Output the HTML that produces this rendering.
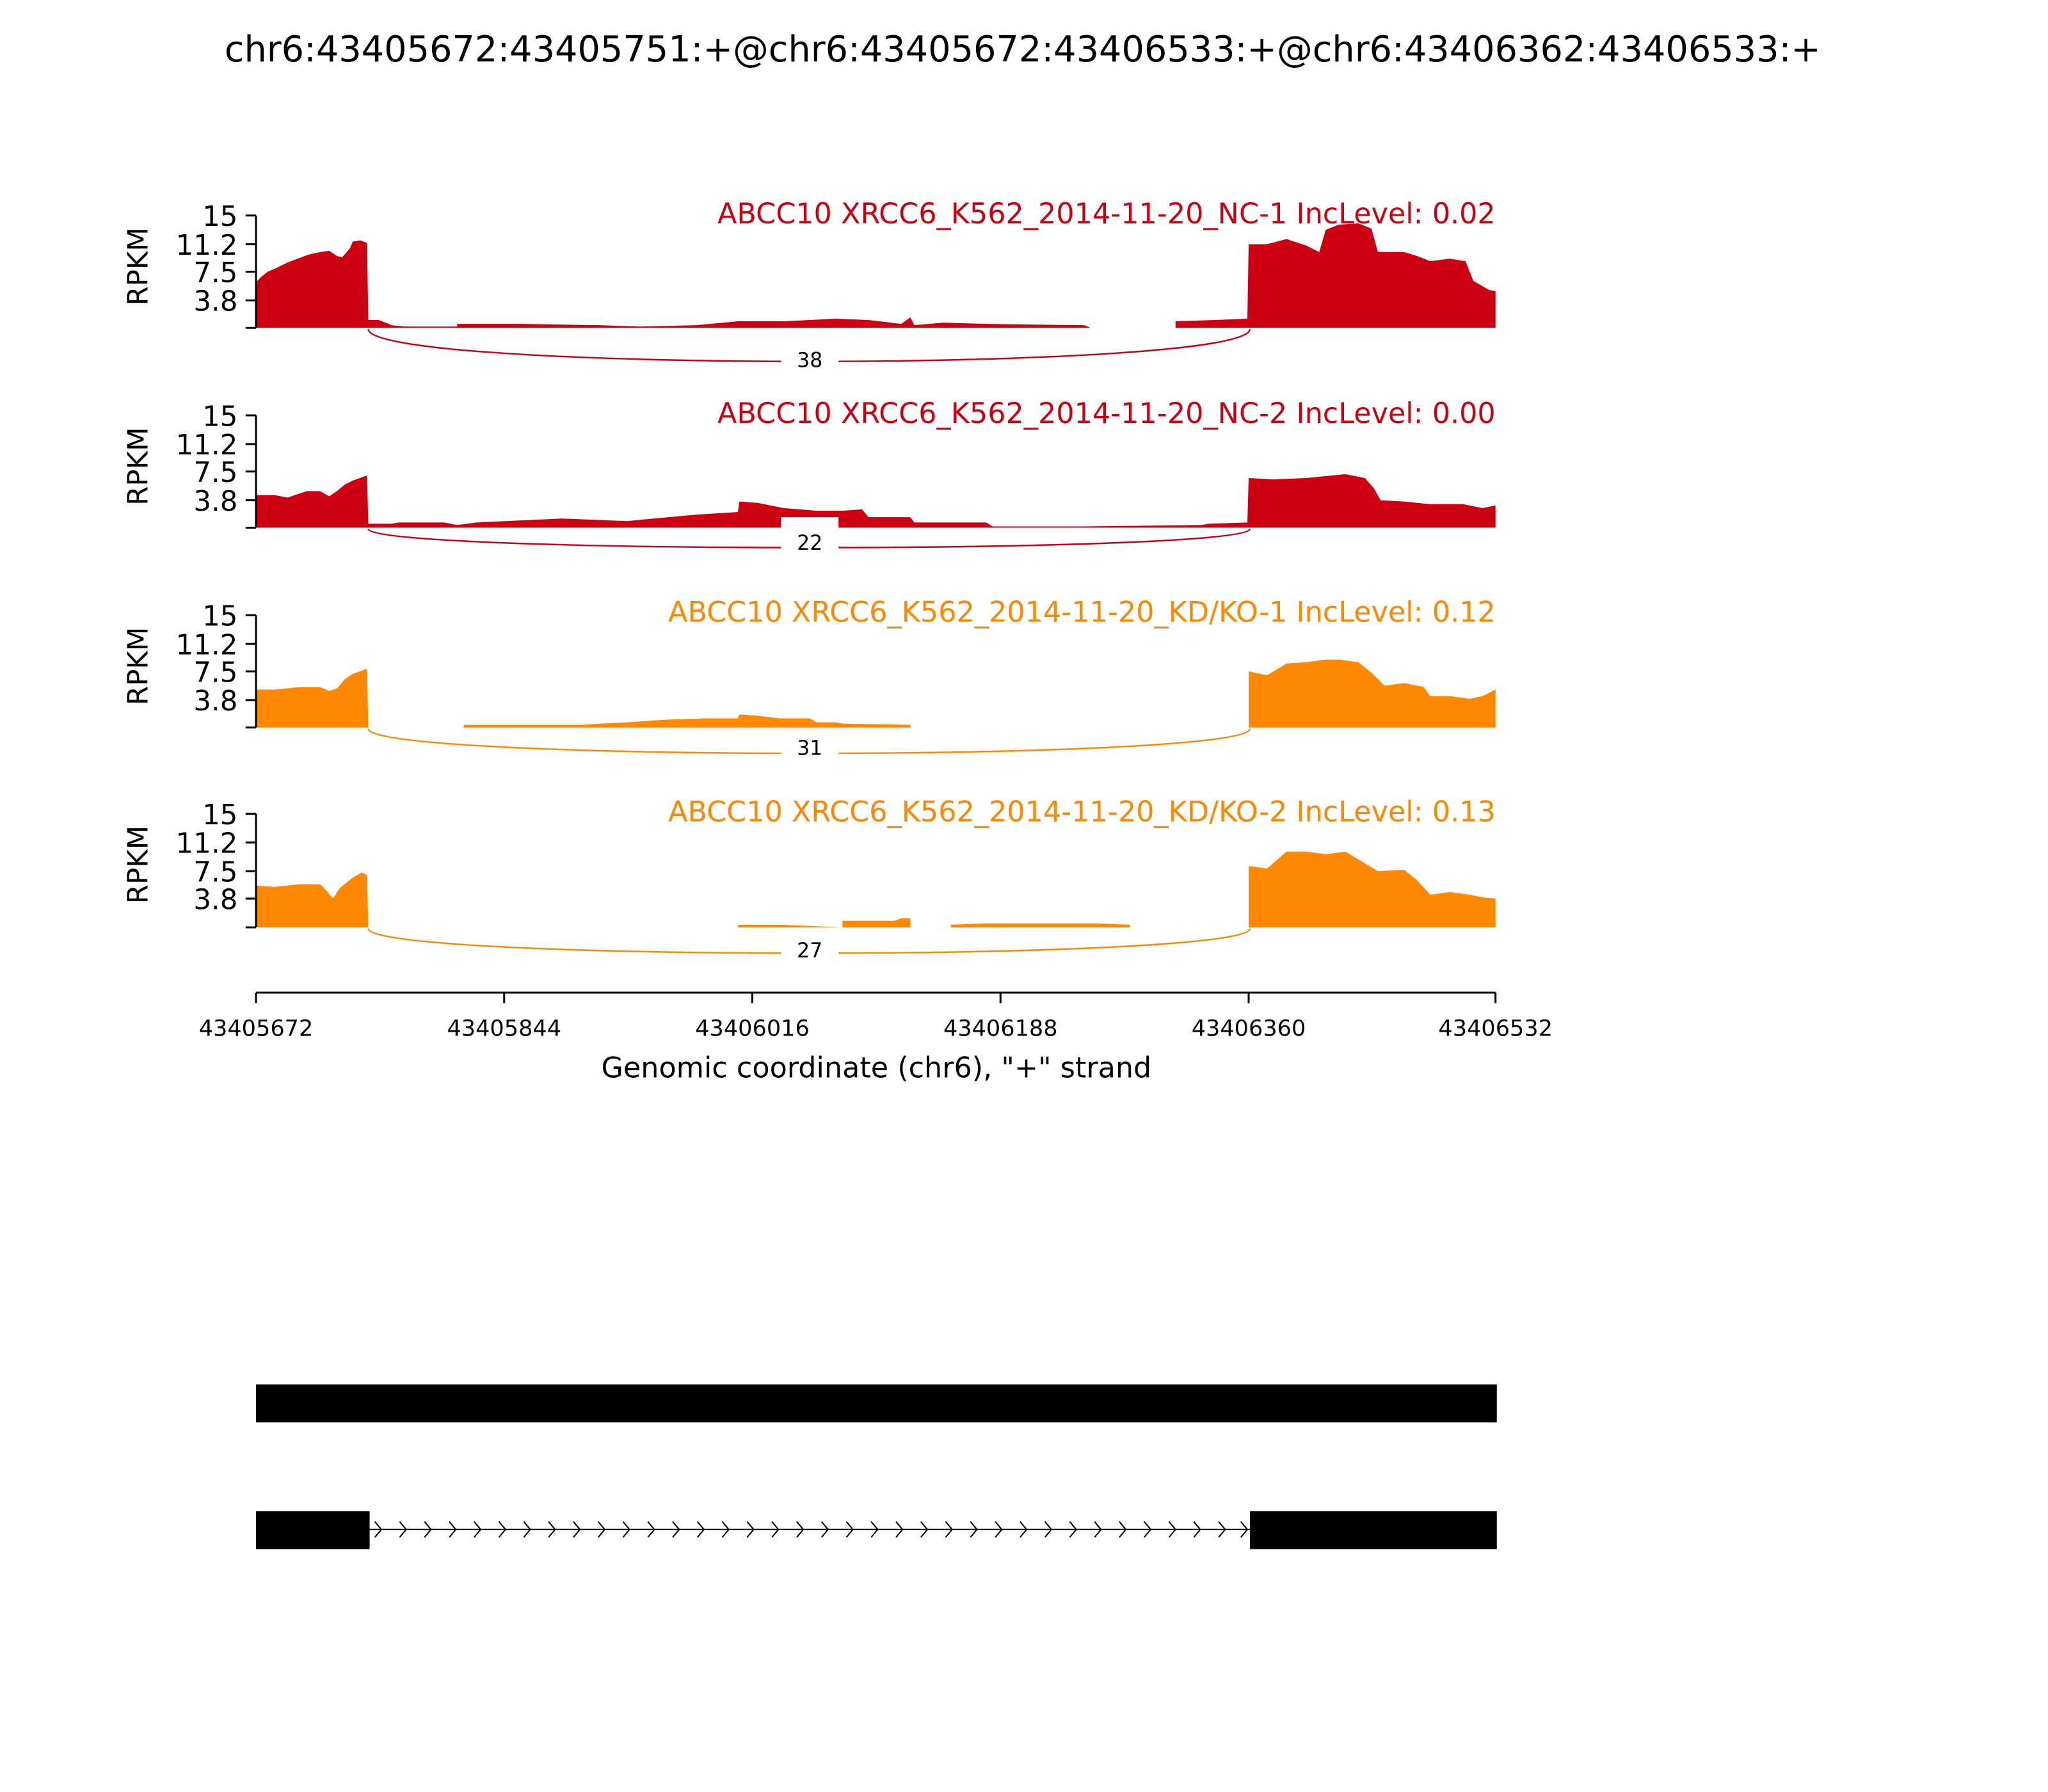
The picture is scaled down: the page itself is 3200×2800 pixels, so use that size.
<!DOCTYPE html>
<html><head><meta charset="utf-8"><style>html,body{margin:0;padding:0;background:#fff}svg{display:block}</style></head><body>
<svg width="3200" height="2800" viewBox="0 0 1568 1372" xmlns="http://www.w3.org/2000/svg" font-family="'DejaVu Sans','Liberation Sans',sans-serif">
<rect width="1568" height="1372" fill="#fff"/>
<text x="783" y="47" font-size="27.3" text-anchor="middle">chr6:43405672:43405751:+@chr6:43405672:43406533:+@chr6:43406362:43406533:+</text>

<!-- Track 1 -->
<g>
<polygon fill="#cc0011" points="196,251 196,216 200,212 205,208 212,205 220,201 228,198 236,195 245,193 252,192 258,196 262,197 268,190 270,185 276,184 281,186 282,245 290,245 300,249 310,250 350,250 350,248 400,248 460,249 490,250 533,249 565,246 600,246 620,245 640,244 665,245 690,248 697,243 700,249 722,247 755,248 830,249 835,251 900,251 900,246 930,245 955,244 956,187 970,187 985,183 1000,188 1010,193 1015,176 1025,172 1040,171 1050,175 1055,193 1075,193 1085,196 1095,200 1110,198 1122,200 1128,215 1140,222 1145,223 1145,251"/>
<path d="M282,252 C282,285 957,285 957,252" fill="none" stroke="#cc0011" stroke-width="1.2"/>
<rect x="598" y="266" width="44" height="20" fill="#fff"/>
<text x="620" y="281" font-size="15.5" text-anchor="middle">38</text>
<text x="1145" y="171" font-size="21.8" fill="#cc0011" text-anchor="end">ABCC10 XRCC6_K562_2014-11-20_NC-1 IncLevel: 0.02</text>
</g>
<!-- Track 2 -->
<g>
<polygon fill="#cc0011" points="196,404 196,379 210,379 220,381 235,376 245,376 252,380 258,376 264,371 270,368 281,364 282,401 300,401 305,400 340,400 350,402 365,400 430,397 480,399 490,398 533,394 565,392 566,384 580,385 600,389 625,391 645,391 660,390 665,396 697,396 700,400 755,400 760,403 830,403 920,402 925,401 955,400 956,366 975,367 1000,366 1020,364 1030,363 1045,366 1052,374 1057,383 1075,384 1095,386 1120,386 1135,389 1145,387 1145,404"/>
<path d="M282,405 C282,424 957,424 957,405" fill="none" stroke="#cc0011" stroke-width="1.2"/>
<rect x="598" y="396" width="44" height="30" fill="#fff"/>
<text x="620" y="421" font-size="15.5" text-anchor="middle">22</text>
<text x="1145" y="324" font-size="21.8" fill="#cc0011" text-anchor="end">ABCC10 XRCC6_K562_2014-11-20_NC-2 IncLevel: 0.00</text>
</g>
<!-- Track 3 -->
<g>
<polygon fill="#ff8800" points="196,557 196,528 210,528 230,526 245,526 252,529 258,527 264,520 270,516 281,512 282,557 355,557 355,555 445,555 460,554 480,553 510,551 540,550 565,550 566,547 580,548 597,550 620,550 625,553 640,553 645,554 697,555 697,557 956,557 956,514 970,517 985,508 1000,507 1015,505 1025,505 1040,507 1050,515 1060,525 1075,523 1090,526 1095,533 1110,533 1125,535 1135,533 1145,528 1145,557"/>
<path d="M282,558 C282,583 957,583 957,558" fill="none" stroke="#ff8800" stroke-width="1.2"/>
<rect x="598" y="564" width="44" height="20" fill="#fff"/>
<text x="620" y="578" font-size="15.5" text-anchor="middle">31</text>
<text x="1145" y="476" font-size="21.8" fill="#ff8800" text-anchor="end">ABCC10 XRCC6_K562_2014-11-20_KD/KO-1 IncLevel: 0.12</text>
</g>
<!-- Track 4 -->
<g>
<polygon fill="#ff8800" points="196,710 196,678 210,679 230,677 245,677 250,682 255,688 260,680 270,672 277,668 281,670 282,710 565,710 565,708 597,708 645,710 645,705 685,705 690,703 697,703 697,710 728,710 728,708 753,707 840,707 865,708 865,710 956,710 956,663 970,665 985,652 1000,652 1015,654 1030,652 1045,661 1055,667 1075,666 1085,674 1095,685 1110,683 1125,685 1135,687 1145,688 1145,710"/>
<path d="M282,711 C282,736 957,736 957,711" fill="none" stroke="#ff8800" stroke-width="1.2"/>
<rect x="598" y="718" width="44" height="20" fill="#fff"/>
<text x="620" y="733" font-size="15.5" text-anchor="middle">27</text>
<text x="1145" y="629" font-size="21.8" fill="#ff8800" text-anchor="end">ABCC10 XRCC6_K562_2014-11-20_KD/KO-2 IncLevel: 0.13</text>
</g>

<!-- Y axes -->
<g stroke="#000" stroke-width="1.5" fill="none">
<path d="M196,165V251M188,165H196M188,187H196M188,208H196M188,230H196M188,251H196"/>
<path d="M196,318V404M188,318H196M188,340H196M188,361H196M188,383H196M188,404H196"/>
<path d="M196,471V557M188,471H196M188,493H196M188,514H196M188,536H196M188,557H196"/>
<path d="M196,623V710M188,623H196M188,645H196M188,667H196M188,688H196M188,710H196"/>
</g>
<g font-size="21.3" text-anchor="end">
<text x="182" y="173">15</text><text x="182" y="195">11.2</text><text x="182" y="216">7.5</text><text x="182" y="238">3.8</text>
<text x="182" y="326">15</text><text x="182" y="348">11.2</text><text x="182" y="369">7.5</text><text x="182" y="391">3.8</text>
<text x="182" y="479">15</text><text x="182" y="501">11.2</text><text x="182" y="522">7.5</text><text x="182" y="544">3.8</text>
<text x="182" y="631">15</text><text x="182" y="653">11.2</text><text x="182" y="675">7.5</text><text x="182" y="696">3.8</text>
</g>
<g font-size="21.3" text-anchor="middle">
<text transform="translate(113,204) rotate(-90)">RPKM</text>
<text transform="translate(113,357) rotate(-90)">RPKM</text>
<text transform="translate(113,510) rotate(-90)">RPKM</text>
<text transform="translate(113,662) rotate(-90)">RPKM</text>
</g>

<!-- X axis -->
<g stroke="#000" stroke-width="1.5">
<path d="M196,760H1145M196,760V768M386,760V768M576,760V768M766,760V768M956,760V768M1145,760V768"/>
</g>
<g font-size="17.2" text-anchor="middle">
<text x="196" y="793">43405672</text><text x="386" y="793">43405844</text><text x="576" y="793">43406016</text>
<text x="766" y="793">43406188</text><text x="956" y="793">43406360</text><text x="1145" y="793">43406532</text>
</g>
<text x="671" y="825" font-size="21.8" text-anchor="middle">Genomic coordinate (chr6), "+" strand</text>

<!-- Gene model -->
<rect x="196" y="1060" width="950" height="29" fill="#000"/>
<rect x="196" y="1157" width="87" height="29" fill="#000"/>
<rect x="957" y="1157" width="189" height="29" fill="#000"/>
<line x1="283" y1="1171" x2="957" y2="1171" stroke="#000" stroke-width="1"/>
<path fill="none" stroke="#000" stroke-width="1" d="M287,1165l5,6l-5,6M306,1165l5,6l-5,6M325,1165l5,6l-5,6M344,1165l5,6l-5,6M363,1165l5,6l-5,6M382,1165l5,6l-5,6M401,1165l5,6l-5,6M420,1165l5,6l-5,6M439,1165l5,6l-5,6M458,1165l5,6l-5,6M477,1165l5,6l-5,6M496,1165l5,6l-5,6M515,1165l5,6l-5,6M534,1165l5,6l-5,6M553,1165l5,6l-5,6M572,1165l5,6l-5,6M591,1165l5,6l-5,6M610,1165l5,6l-5,6M629,1165l5,6l-5,6M648,1165l5,6l-5,6M667,1165l5,6l-5,6M686,1165l5,6l-5,6M705,1165l5,6l-5,6M724,1165l5,6l-5,6M743,1165l5,6l-5,6M762,1165l5,6l-5,6M781,1165l5,6l-5,6M800,1165l5,6l-5,6M819,1165l5,6l-5,6M838,1165l5,6l-5,6M857,1165l5,6l-5,6M876,1165l5,6l-5,6M895,1165l5,6l-5,6M914,1165l5,6l-5,6M933,1165l5,6l-5,6M950,1165l5,6l-5,6"/>
</svg>
</body></html>
